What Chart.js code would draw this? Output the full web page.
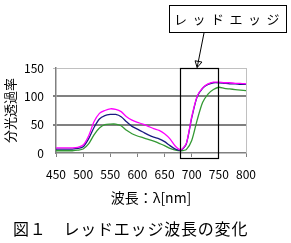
<!DOCTYPE html>
<html>
<head>
<meta charset="utf-8">
<script src="https://cdn.jsdelivr.net/npm/chart.js@4/dist/chart.umd.min.js"></script>
<style>
  body { margin: 0; background: #fff; }
  #wrap { position: relative; width: 291px; height: 243px; }
  #myChart { position: absolute; left: 0; top: 0; }
  .label-box {
    position: absolute; left: 169px; top: 5px; width: 116px; height: 26px;
    border: 1px solid #000; font-family: 'Noto Sans CJK JP', sans-serif;
    font-size: 13px; line-height: 26px; text-align: center; letter-spacing: 5.5px;
    text-indent: 3px; white-space: nowrap; color: #000;
  }
  .caption {
    position: absolute; left: 13px; top: 217px; font-family: 'Noto Sans CJK JP', sans-serif;
    font-size: 16px; line-height: 22px; letter-spacing: 0.8px; color: #000; white-space: pre;
  }
</style>
</head>
<body>
<div id="wrap">
  <canvas id="myChart" width="291" height="243"></canvas>
  <div class="label-box">レッドエッジ</div>
  <div class="caption">図１　レッドエッジ波長の変化</div>
</div>
<script>
// wavelengths [nm]
const wavelengths = [450, 460, 470, 480, 490, 500, 510, 520, 530, 540, 550, 560, 570, 580, 590, 600, 610, 620,
                     630, 640, 650, 660, 670, 680, 690, 700, 710, 720, 730, 740, 750, 760, 770, 780, 790, 800];

// spectral transmittance, three curves
const seriesPink = [9, 9, 9, 9, 10, 14, 30, 55, 70, 75, 78, 77, 73, 64, 58, 54, 51, 47,
                    43, 40, 34, 25, 12, 6, 17, 64, 100, 115, 122, 125, 125, 124, 124, 123, 123, 122];
const seriesNavy = [7, 7, 7, 7, 8, 11, 25, 45, 60, 66, 68, 68, 64, 55, 47, 42, 37, 32,
                    28, 25, 20, 13, 7, 5, 16, 62, 99, 114, 121, 124, 124, 123, 122, 122, 121, 121];
const seriesGreen = [4, 4, 4, 4, 5, 7, 16, 32, 44, 50, 51, 51, 48, 40, 34, 30, 27, 24,
                     21, 17, 13, 8, 5, 4, 6, 22, 58, 89, 104, 112, 116, 114, 113, 112, 111, 110];

const xTicks = [450, 500, 550, 600, 650, 700, 750, 800];
const yTicks = [0, 50, 100, 150];

// red edge range marked by the box
const redEdge = [678, 748];

const font = "'Noto Sans CJK JP', sans-serif";

function toPoints(vals) {
    return wavelengths.map((w, i) => ({ x: w, y: vals[i] }));
}

const extras = {
    id: 'extras',
    afterDatasetsDraw(chart) {
        const { ctx, chartArea, scales } = chart;
        ctx.save();
        // right border of plot
        ctx.strokeStyle = '#c0c0c0';
        ctx.lineWidth = 1;
        ctx.beginPath();
        ctx.moveTo(chartArea.right + 0.5, chartArea.top);
        ctx.lineTo(chartArea.right + 0.5, chartArea.bottom);
        ctx.stroke();

        // red edge box
        const x1 = Math.round(scales.x.getPixelForValue(redEdge[0])) + 0.5;
        const x2 = Math.round(scales.x.getPixelForValue(redEdge[1])) + 0.5;
        const top = Math.round(scales.y.getPixelForValue(150)) + 0.5;
        const bottom = Math.round(chartArea.bottom) + 5.5;
        ctx.strokeStyle = '#000';
        ctx.lineWidth = 1.2;
        ctx.strokeRect(x1, top, x2 - x1, bottom - top);

        // arrow from label box
        const sx = 204, sy = 33;
        const ex = scales.x.getPixelForValue(710), ey = top;
        ctx.lineWidth = 1;
        ctx.beginPath();
        ctx.moveTo(sx, sy);
        ctx.lineTo(ex, ey - 1);
        ctx.stroke();
        const ang = Math.atan2(ey - sy, ex - sx);
        const len = 8, spread = 0.45;
        ctx.beginPath();
        ctx.moveTo(ex - len * Math.cos(ang - spread), ey - len * Math.sin(ang - spread));
        ctx.lineTo(ex, ey - 1);
        ctx.lineTo(ex - len * Math.cos(ang + spread), ey - len * Math.sin(ang + spread));
        ctx.closePath();
        ctx.stroke();
        ctx.restore();
    }
};

const ctx = document.getElementById('myChart').getContext('2d');
const myChart = new Chart(ctx, {
    type: 'line',
    data: {
        datasets: [
            { data: toPoints(seriesPink), borderColor: '#ff00ff' },
            { data: toPoints(seriesNavy), borderColor: '#1a1a80' },
            { data: toPoints(seriesGreen), borderColor: '#339933' }
        ]
    },
    options: {
        responsive: false,
        animation: false,
        layout: { padding: { left: 0, right: 45, top: 68, bottom: 35 } },
        elements: {
            point: { radius: 0 },
            line: { borderWidth: 1.3, tension: 0.25 }
        },
        plugins: {
            legend: { display: false },
            tooltip: { enabled: false }
        },
        scales: {
            x: {
                type: 'linear',
                min: 450,
                max: 800,
                afterBuildTicks: (s) => { s.ticks = xTicks.map(v => ({ value: v })); },
                ticks: { color: '#000', font: { family: font, size: 12 }, padding: 10, maxRotation: 0 },
                grid: { drawOnChartArea: false, tickLength: 4, color: '#808080' },
                border: { color: '#808080', width: 1.5 },
                title: {
                    display: true, text: '波長：λ[nm]', color: '#000',
                    font: { family: font, size: 14 }, padding: { top: 8, bottom: 2 }
                },
                afterFit: (s) => { s.height = 55; }
            },
            y: {
                min: 0,
                max: 150,
                afterBuildTicks: (s) => { s.ticks = yTicks.map(v => ({ value: v })); },
                afterFit: (s) => { s.width = 56; },
                ticks: { color: '#000', font: { family: font, size: 12 }, padding: 9 },
                grid: {
                    tickLength: 3,
                    color: (c) => (c.tick && c.tick.value === 150) ? '#c0c0c0' : (c.tick && c.tick.value === 0 ? 'rgba(0,0,0,0)' : '#808080'),
                    lineWidth: (c) => (c.tick && (c.tick.value === 50 || c.tick.value === 100)) ? 2 : 1
                },
                border: { color: '#808080', width: 1.5 },
                title: {
                    display: true, text: '分光透過率', color: '#000',
                    font: { family: font, size: 13 }, padding: { top: 2, bottom: 0 }
                }
            }
        }
    },
    plugins: [extras]
});
</script>
</body>
</html>
